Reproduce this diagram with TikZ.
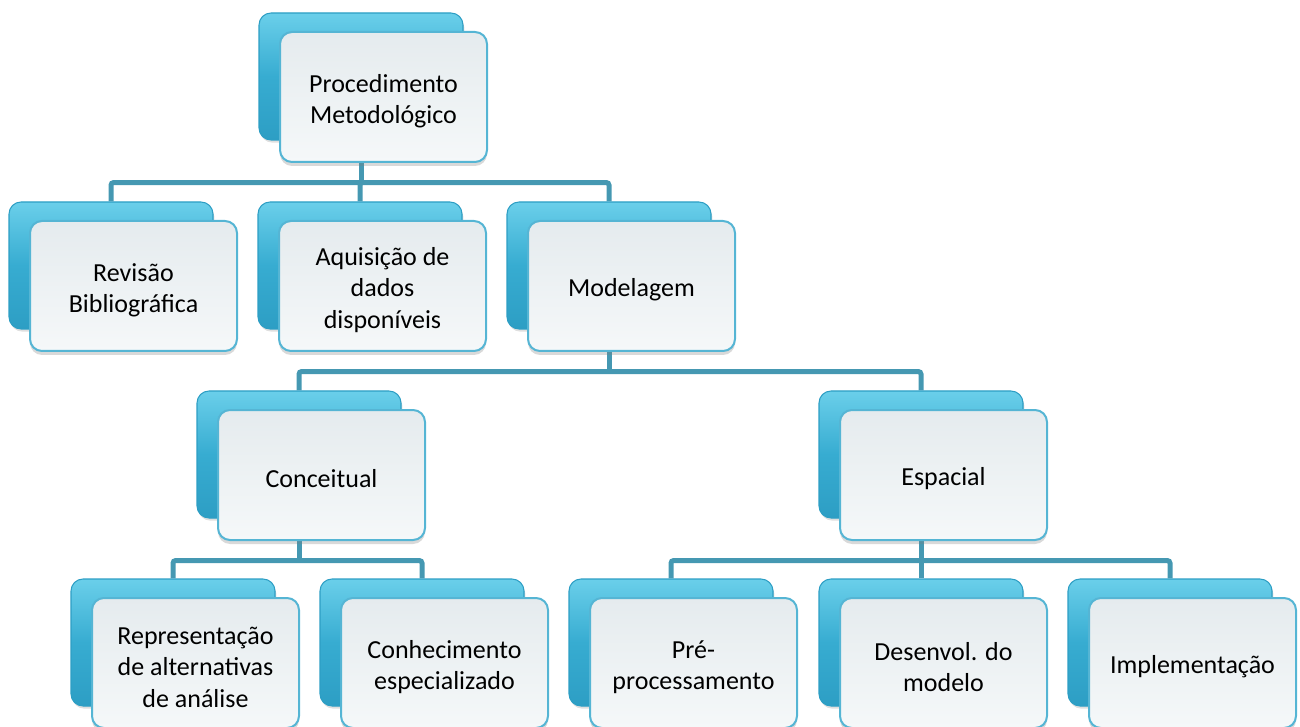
\documentclass[tikz,border=0pt]{standalone}
\usepackage{fontspec}
\setmainfont{Carlito}
\usetikzlibrary{shadows,backgrounds}
\definecolor{linkcol}{HTML}{4598B2}
\definecolor{bhi}{HTML}{6ACFEA}
\definecolor{bmid}{HTML}{37ACD1}
\definecolor{blo}{HTML}{2D9EC4}
\definecolor{fedge}{HTML}{55B5D4}
\definecolor{ftop}{HTML}{E5EBEE}
\definecolor{fbot}{HTML}{F5F8F9}
\newcommand{\liftline}{\rule{0pt}{19.5pt}}
\newcommand{\boxpair}[3]{%
  \node[backbox] (#1b) at (#2) {};
  \node[frontbox] (#1) at ([shift={(22.5,20.5)}]#1b.center) {\liftline #3};}
\begin{document}
\begin{tikzpicture}[x=0.75pt,y=-0.75pt,
  backbox/.style={rectangle, rounded corners=9pt, minimum width=153pt, minimum height=95.25pt,
    inner sep=0pt, draw=blo, line width=0.8pt, top color=bhi, bottom color=blo, middle color=bmid,
    drop shadow={opacity=0.25, shadow xshift=1pt, shadow yshift=-2pt}},
  frontbox/.style={rectangle, rounded corners=9pt, minimum width=155.25pt, minimum height=97.5pt,
    inner sep=0pt, draw=fedge, line width=1.5pt, top color=ftop, bottom color=fbot,
    align=center, font=\fontsize{19.5}{23.5}\selectfont,
    drop shadow={opacity=0.3, shadow xshift=0pt, shadow yshift=-3pt}},
  link/.style={draw=linkcol, line width=3.75pt, rounded corners=2pt}
]
\useasboundingbox (0,0) rectangle (1300,727);

\boxpair{pm}{361,76.5}{Procedimento\\Metodológico}
\boxpair{rev}{111,265.5}{Revisão\\Bibliográfica}
\boxpair{aq}{360,265.5}{Aquisição de\\dados\\disponíveis}
\boxpair{mod}{609,265.5}{Modelagem}
\boxpair{conc}{299,454.5}{Conceitual}
\boxpair{esp}{921,454.5}{Espacial}
\boxpair{rep}{173,642.5}{Representação\\de alternativas\\de análise}
\boxpair{con}{422,642.5}{Conhecimento\\especializado}
\boxpair{pre}{671,642.5}{Pré-\\processamento}
\boxpair{des}{921,642.5}{Desenvol. do\\modelo}
\boxpair{imp}{1170,642.5}{Implementação}

\begin{scope}[on background layer]
  \draw[link] (pmb.south) -- ++(0,42) coordinate (bus1);
  \draw[link] (revb.north) |- (bus1) -| (modb.north);
  \draw[link] (bus1) -| (aqb.north);
  \draw[link] (modb.south) -- ++(0,42) coordinate (bus2);
  \draw[link] (concb.north) |- (bus2) -| (espb.north);
  \draw[link] (concb.south) -- ++(0,42) coordinate (bus3);
  \draw[link] (repb.north) |- (bus3) -| (conb.north);
  \draw[link] (espb.south) -- ++(0,42) coordinate (bus4);
  \draw[link] (preb.north) |- (bus4) -| (impb.north);
  \draw[link] (bus4) -| (desb.north);
\end{scope}
\end{tikzpicture}
\end{document}
